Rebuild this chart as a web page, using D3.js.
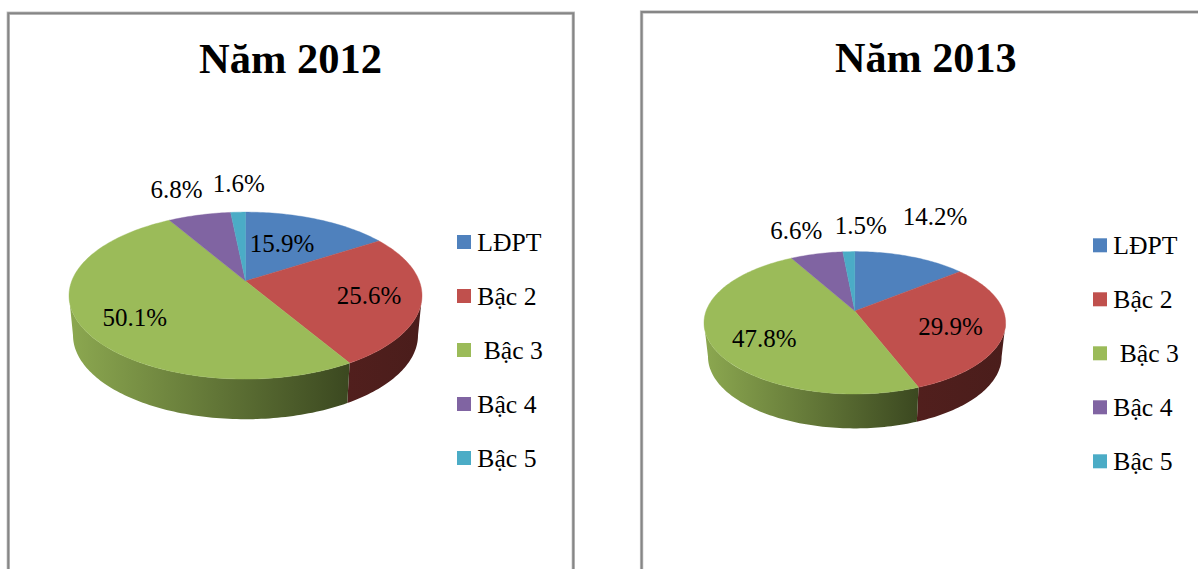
<!DOCTYPE html>
<html>
<head>
<meta charset="utf-8">
<script src="https://cdn.jsdelivr.net/npm/d3@7"></script>
<style>
  html, body { margin: 0; padding: 0; background: #fff; overflow: hidden; }
  svg { display: block; }
  text { font-family: "Liberation Serif", serif; fill: #000; white-space: pre; }
</style>
</head>
<body>
<svg id="chart" width="1198" height="569"></svg>
<script>
// chart data
const categories = ["LĐPT", "Bậc 2", " Bậc 3", "Bậc 4", "Bậc 5"];
const values2012 = [15.9, 25.6, 50.1, 6.8, 1.6];
const values2013 = [14.2, 29.9, 47.8, 6.6, 1.5];
const titles = ["Năm 2012", "Năm 2013"];

const colors = ["#4f81bd", "#c0504d", "#9bbb59", "#8064a2", "#4bacc6"];
// side wall gradient, left to right
const wallColors = [
  ["#2a4464", "#2a4464"],
  ["#511f1d", "#4a1d1b"],
  ["#8ca850", "#3b4820"],
  ["#43345a", "#43345a"],
  ["#276070", "#276070"]
];

const svg = d3.select("#chart");
const defs = svg.append("defs");

const pie = d3.pie().sort(null).value(d => d);
const line = d3.line().x(d => d[0]).y(d => d[1]);
const pct = v => d3.format(".1f")(v) + "%";

// perspective of a tilted circle: apex sits above the ellipse centre
function projector(p, rx, ry, cy) {
  let c = (p.apexY - p.cy) / p.ry;
  let k = rx * Math.sqrt(1 - c * c);
  return a => {
    let u = Math.sin(a), v = -Math.cos(a);
    let w = 1 + c * v;
    return [p.cx + k * u / w, cy + (ry * v + c * p.ry) / w];
  };
}

function arcPoints(f, a0, a1) {
  let n = Math.max(2, Math.ceil((a1 - a0) / 0.02));
  return d3.range(n + 1).map(i => f(a0 + (a1 - a0) * i / n));
}

function drawPanel(p, i) {
  let g = svg.append("g").attr("class", "panel");

  // frame, open at the bottom edge
  let framePath = d3.path();
  framePath.moveTo(p.frame.left, 569);
  framePath.lineTo(p.frame.left, p.frame.top);
  framePath.lineTo(p.frame.right, p.frame.top);
  if (p.frame.right < 1198) framePath.lineTo(p.frame.right, 569);
  g.append("path").attr("d", framePath.toString()).attr("fill", "none")
    .attr("stroke", "#c4c4c4").attr("stroke-width", 3.4);
  g.append("path").attr("d", framePath.toString()).attr("fill", "none")
    .attr("stroke", "#868686").attr("stroke-width", 2);

  g.append("text")
    .attr("x", p.titleX).attr("y", p.titleY)
    .attr("text-anchor", "middle")
    .attr("font-weight", "bold")
    .style("font-size", p.titleSize + "px")
    .text(titles[i]);

  let arcs = pie(p.values);
  let top = projector(p, p.rx, p.ry, p.cy);
  let bottom = projector(p, p.rx - 4, p.ry + 0.5, p.cy + p.depth);

  // front part of the rim lies between the two ellipse extremes
  let frontStart = Math.acos((p.apexY - p.cy) / p.ry);
  let frontEnd = 2 * Math.PI - frontStart;

  arcs.forEach(d => {
    let a0 = Math.max(d.startAngle, frontStart);
    let a1 = Math.min(d.endAngle, frontEnd);
    if (a1 <= a0) return;
    let id = `wall-${i}-${d.index}`;
    let grad = defs.append("linearGradient").attr("id", id);
    grad.append("stop").attr("offset", "0%").attr("stop-color", wallColors[d.index][0]);
    grad.append("stop").attr("offset", "100%").attr("stop-color", wallColors[d.index][1]);
    let pts = arcPoints(top, a0, a1).concat(arcPoints(bottom, a0, a1).reverse());
    g.append("path")
      .attr("d", line(pts) + "Z")
      .attr("fill", `url(#${id})`);
  });

  arcs.forEach(d => {
    let pts = [[p.cx, p.apexY]].concat(arcPoints(top, d.startAngle, d.endAngle));
    g.append("path")
      .attr("d", line(pts) + "Z")
      .attr("fill", colors[d.index])
      .attr("stroke", colors[d.index])
      .attr("stroke-width", 0.4);
  });

  g.selectAll(".value-label")
    .data(p.values)
    .join("text")
      .attr("class", "value-label")
      .attr("x", (d, j) => p.labels[j][0])
      .attr("y", (d, j) => p.labels[j][1])
      .attr("text-anchor", "middle")
      .style("font-size", "25px")
      .text(d => pct(d));

  let legend = g.selectAll(".legend-item")
    .data(categories)
    .join("g")
      .attr("class", "legend-item")
      .attr("transform", (d, j) => `translate(${p.legendX},${p.legendY + j * p.legendStep})`);
  legend.append("rect")
    .attr("width", 14).attr("height", 14)
    .attr("fill", (d, j) => colors[j]);
  legend.append("text")
    .attr("x", 20.3).attr("y", 16)
    .style("font-size", "25.7px")
    .text(d => d);
}

const panels = [
  {
    values: values2012,
    frame: { left: 8.3, top: 13.2, right: 573.3 },
    titleX: 290.5, titleY: 72.5, titleSize: 42.5,
    cx: 245.5, cy: 295.6, apexY: 281, rx: 176.5, ry: 83.5, depth: 39.5,
    labels: [[282, 251.7], [369, 304], [134.7, 326], [176.5, 198.3], [238.8, 191.7]],
    legendX: 457, legendY: 235, legendStep: 54
  },
  {
    values: values2013,
    frame: { left: 641.6, top: 12, right: 1200 },
    titleX: 925.8, titleY: 71.6, titleSize: 42.2,
    cx: 854.8, cy: 322.8, apexY: 311, rx: 150.8, ry: 71.2, depth: 33.8,
    labels: [[935, 225], [950.5, 335], [764.3, 346.7], [796.3, 239.3], [860.8, 234]],
    legendX: 1093, legendY: 238.3, legendStep: 54
  }
];

panels.forEach(drawPanel);
</script>
</body>
</html>
